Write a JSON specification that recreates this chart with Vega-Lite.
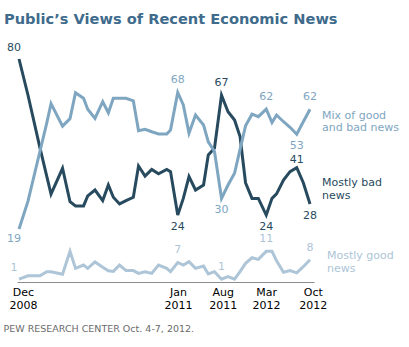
{
  "$schema": "https://vega.github.io/schema/vega-lite/v6.json",
  "width": 297,
  "height": 223,
  "autosize": {"type": "none"},
  "padding": {"left": 17, "top": 59, "right": 95, "bottom": 65},
  "background": "white",
  "config": {"view": {"stroke": null}, "font": "DejaVu Sans"},
  "title": {
    "text": "Public’s Views of Recent Economic News",
    "anchor": "start",
    "frame": "group",
    "dx": -13,
    "offset": 15,
    "fontSize": 14.6,
    "font": "DejaVu Sans",
    "fontWeight": "bold",
    "color": "#3f6b8c"
  },
  "datasets": {
    "series": [
      {"m": 0, "Mostly bad news": 80, "Mix of good and bad news": 19, "Mostly good news": 1},
      {"m": 1.42, "Mostly bad news": 67, "Mix of good and bad news": 29, "Mostly good news": 2.2},
      {"m": 3.32, "Mostly bad news": 48, "Mix of good and bad news": 47, "Mostly good news": 2.2},
      {"m": 4.38, "Mostly bad news": 38, "Mix of good and bad news": 57, "Mostly good news": 3.7},
      {"m": 5.06, "Mostly bad news": 31.5, "Mix of good and bad news": 64, "Mostly good news": 3.7},
      {"m": 6.88, "Mostly bad news": 40.8, "Mix of good and bad news": 55.9, "Mostly good news": 2.8},
      {"m": 8.06, "Mostly bad news": 28.8, "Mix of good and bad news": 58.6, "Mostly good news": 11},
      {"m": 8.93, "Mostly bad news": 27.3, "Mix of good and bad news": 67.9, "Mostly good news": 4.9},
      {"m": 10.2, "Mostly bad news": 27.3, "Mix of good and bad news": 65.9, "Mostly good news": 6.1},
      {"m": 10.86, "Mostly bad news": 30.9, "Mix of good and bad news": 62, "Mostly good news": 4.9},
      {"m": 12.01, "Mostly bad news": 33, "Mix of good and bad news": 58.7, "Mostly good news": 7.2},
      {"m": 13.23, "Mostly bad news": 29.2, "Mix of good and bad news": 64.7, "Mostly good news": 5.3},
      {"m": 14.12, "Mostly bad news": 34.8, "Mix of good and bad news": 60.7, "Mostly good news": 4},
      {"m": 14.91, "Mostly bad news": 30.4, "Mix of good and bad news": 65.9, "Mostly good news": 3.8},
      {"m": 15.89, "Mostly bad news": 28, "Mix of good and bad news": 65.9, "Mostly good news": 6.1},
      {"m": 16.91, "Mostly bad news": 29.2, "Mix of good and bad news": 65.9, "Mostly good news": 4.1},
      {"m": 18.07, "Mostly bad news": 30.4, "Mix of good and bad news": 65, "Mostly good news": 4.1},
      {"m": 18.89, "Mostly bad news": 41.6, "Mix of good and bad news": 54.3, "Mostly good news": 3.1},
      {"m": 19.92, "Mostly bad news": 38, "Mix of good and bad news": 54.8, "Mostly good news": 3.7},
      {"m": 20.98, "Mostly bad news": 40.4, "Mix of good and bad news": 53.9, "Mostly good news": 3.1},
      {"m": 22.05, "Mostly bad news": 38.8, "Mix of good and bad news": 53.1, "Mostly good news": 6.1},
      {"m": 23.35, "Mostly bad news": 40.4, "Mix of good and bad news": 53.1, "Mostly good news": 4.9},
      {"m": 23.95, "Mostly bad news": 39.6, "Mix of good and bad news": 54.5, "Mostly good news": 3.7},
      {"m": 25.09, "Mostly bad news": 24, "Mix of good and bad news": 68, "Mostly good news": 7},
      {"m": 25.97, "Mostly bad news": 30, "Mix of good and bad news": 63.5, "Mostly good news": 6.1},
      {"m": 26.87, "Mostly bad news": 37.8, "Mix of good and bad news": 53.4, "Mostly good news": 7.3},
      {"m": 27.9, "Mostly bad news": 33, "Mix of good and bad news": 59.9, "Mostly good news": 4.9},
      {"m": 29.17, "Mostly bad news": 34.8, "Mix of good and bad news": 56.3, "Mostly good news": 5.7},
      {"m": 29.92, "Mostly bad news": 45.6, "Mix of good and bad news": 50.3, "Mostly good news": 2.9},
      {"m": 30.9, "Mostly bad news": 48, "Mix of good and bad news": 46.8, "Mostly good news": 3.7},
      {"m": 32.01, "Mostly bad news": 67, "Mix of good and bad news": 30, "Mostly good news": 1},
      {"m": 33.04, "Mostly bad news": 61.1, "Mix of good and bad news": 34.8, "Mostly good news": 1.9},
      {"m": 34.07, "Mostly bad news": 58.1, "Mix of good and bad news": 39, "Mostly good news": 1},
      {"m": 34.94, "Mostly bad news": 52.2, "Mix of good and bad news": 47.6, "Mostly good news": 3.7},
      {"m": 35.81, "Mostly bad news": 35.6, "Mix of good and bad news": 56, "Mostly good news": 6.7},
      {"m": 36.83, "Mostly bad news": 30, "Mix of good and bad news": 60.2, "Mostly good news": 8.7},
      {"m": 37.83, "Mostly bad news": 30, "Mix of good and bad news": 59.3, "Mostly good news": 8.1},
      {"m": 39.08, "Mostly bad news": 24, "Mix of good and bad news": 62, "Mostly good news": 11},
      {"m": 39.99, "Mostly bad news": 30, "Mix of good and bad news": 57.2, "Mostly good news": 11},
      {"m": 40.71, "Mostly bad news": 31.6, "Mix of good and bad news": 59.9, "Mostly good news": 7.6},
      {"m": 41.81, "Mostly bad news": 36.6, "Mix of good and bad news": 57.5, "Mostly good news": 3.5},
      {"m": 42.84, "Mostly bad news": 39.6, "Mix of good and bad news": 55.5, "Mostly good news": 4.1},
      {"m": 43.9, "Mostly bad news": 41, "Mix of good and bad news": 53, "Mostly good news": 3.3},
      {"m": 44.94, "Mostly bad news": 35.6, "Mix of good and bad news": 57.5, "Mostly good news": 5.5},
      {"m": 46, "Mostly bad news": 28, "Mix of good and bad news": 62, "Mostly good news": 8}
    ],
    "labels": [
      {"m": 0, "series": "Mostly bad news", "value": 80, "label": "80", "side": "above"},
      {"m": 0, "series": "Mix of good and bad news", "value": 19, "label": "19", "side": "below"},
      {"m": 0, "series": "Mostly good news", "value": 1, "label": "1", "side": "above"},
      {"m": 25.09, "series": "Mix of good and bad news", "value": 68, "label": "68", "side": "above"},
      {"m": 25.09, "series": "Mostly bad news", "value": 24, "label": "24", "side": "below"},
      {"m": 25.09, "series": "Mostly good news", "value": 7, "label": "7", "side": "above"},
      {"m": 32.01, "series": "Mostly bad news", "value": 67, "label": "67", "side": "above"},
      {"m": 32.01, "series": "Mix of good and bad news", "value": 30, "label": "30", "side": "below"},
      {"m": 32.01, "series": "Mostly good news", "value": 1, "label": "1", "side": "above"},
      {"m": 39.08, "series": "Mix of good and bad news", "value": 62, "label": "62", "side": "above"},
      {"m": 39.08, "series": "Mostly bad news", "value": 24, "label": "24", "side": "below"},
      {"m": 39.08, "series": "Mostly good news", "value": 11, "label": "11", "side": "above"},
      {"m": 43.9, "series": "Mix of good and bad news", "value": 53, "label": "53", "side": "below"},
      {"m": 43.9, "series": "Mostly bad news", "value": 41, "label": "41", "side": "above"},
      {"m": 46, "series": "Mix of good and bad news", "value": 62, "label": "62", "side": "above"},
      {"m": 46, "series": "Mostly bad news", "value": 28, "label": "28", "side": "below"},
      {"m": 46, "series": "Mostly good news", "value": 8, "label": "8", "side": "above"}
    ]
  },
  "encoding": {
    "x": {
      "field": "m",
      "type": "quantitative",
      "scale": {"domain": [-0.32, 46.63], "nice": false, "zero": false},
      "axis": {
        "values": [0.63, 25.13, 32.2, 39.05, 46.43],
        "labelExpr": "datum.value < 1 ? ['Dec', '2008'] : datum.value < 30 ? ['Jan', '2011'] : datum.value < 35 ? ['Aug', '2011'] : datum.value < 42 ? ['Mar', '2012'] : ['Oct', '2012']",
        "labelFont": "DejaVu Sans",
        "labelFontSize": 11,
        "labelColor": "#000000",
        "labelLineHeight": 13,
        "labelPadding": 4,
        "labelBaseline": "top",
        "labelFlush": false,
        "labelOverlap": false,
        "ticks": false,
        "grid": false,
        "domainColor": "#8c8c8c",
        "domainWidth": 1,
        "title": "PEW RESEARCH CENTER Oct. 4-7, 2012.",
        "titleFont": "DejaVu Sans",
        "titleFontSize": 9.5,
        "titleFontWeight": "normal",
        "titleColor": "#6b6b6b",
        "titleAnchor": "start",
        "titleAlign": "left",
        "titleBaseline": "middle",
        "titleX": -14,
        "titleY": 46
      }
    },
    "y": {
      "field": "value",
      "type": "quantitative",
      "scale": {"domain": [0, 80], "nice": false},
      "axis": null
    },
    "color": {
      "field": "series",
      "type": "nominal",
      "scale": {
        "domain": ["Mostly bad news", "Mix of good and bad news", "Mostly good news"],
        "range": ["#284a5e", "#7ea6c1", "#adc5d7"]
      },
      "legend": null
    }
  },
  "layer": [
    {
      "data": {"name": "series"},
      "transform": [
        {"fold": ["Mostly bad news", "Mix of good and bad news", "Mostly good news"], "as": ["series", "value"]}
      ],
      "mark": {"type": "line", "strokeWidth": 3, "strokeJoin": "miter", "strokeCap": "butt", "clip": false}
    },
    {
      "data": {"name": "labels"},
      "transform": [{"filter": "datum.side == 'above' && datum.m > 0 && datum.m != 43.9"}],
      "mark": {"type": "text", "fontSize": 11, "font": "DejaVu Sans", "baseline": "middle", "dy": -12},
      "encoding": {"text": {"field": "label"}}
    },
    {
      "data": {"name": "labels"},
      "transform": [{"filter": "datum.side == 'above' && datum.m == 43.9"}],
      "mark": {"type": "text", "fontSize": 11, "font": "DejaVu Sans", "baseline": "middle", "dy": -8},
      "encoding": {"text": {"field": "label"}}
    },
    {
      "data": {"name": "labels"},
      "transform": [{"filter": "datum.side == 'below' && datum.m > 0"}],
      "mark": {"type": "text", "fontSize": 11, "font": "DejaVu Sans", "baseline": "middle", "dy": 12},
      "encoding": {"text": {"field": "label"}}
    },
    {
      "data": {"name": "labels"},
      "transform": [{"filter": "datum.side == 'above' && datum.m == 0"}],
      "mark": {"type": "text", "fontSize": 11, "font": "DejaVu Sans", "baseline": "middle", "dy": -11, "dx": -5},
      "encoding": {"text": {"field": "label"}}
    },
    {
      "data": {"name": "labels"},
      "transform": [{"filter": "datum.side == 'below' && datum.m == 0"}],
      "mark": {"type": "text", "fontSize": 11, "font": "DejaVu Sans", "baseline": "middle", "dy": 10, "dx": -5},
      "encoding": {"text": {"field": "label"}}
    },
    {
      "data": {"name": "labels"},
      "transform": [{"filter": "datum.m == 46 && datum.series == 'Mix of good and bad news'"}],
      "mark": {"type": "text", "fontSize": 11, "font": "DejaVu Sans", "align": "left", "baseline": "middle", "lineHeight": 12, "dx": 12, "dy": 7},
      "encoding": {"text": {"value": ["Mix of good", "and bad news"]}}
    },
    {
      "data": {"name": "labels"},
      "transform": [{"filter": "datum.m == 46 && datum.series == 'Mostly bad news'"}],
      "mark": {"type": "text", "fontSize": 11, "font": "DejaVu Sans", "align": "left", "baseline": "middle", "lineHeight": 13, "dx": 12, "dy": -21},
      "encoding": {"text": {"value": ["Mostly bad", "news"]}}
    },
    {
      "data": {"name": "labels"},
      "transform": [{"filter": "datum.m == 46 && datum.series == 'Mostly good news'"}],
      "mark": {"type": "text", "fontSize": 11, "font": "DejaVu Sans", "align": "left", "baseline": "middle", "lineHeight": 13, "dx": 17, "dy": -4},
      "encoding": {"text": {"value": ["Mostly good", "news"]}}
    }
  ]
}
